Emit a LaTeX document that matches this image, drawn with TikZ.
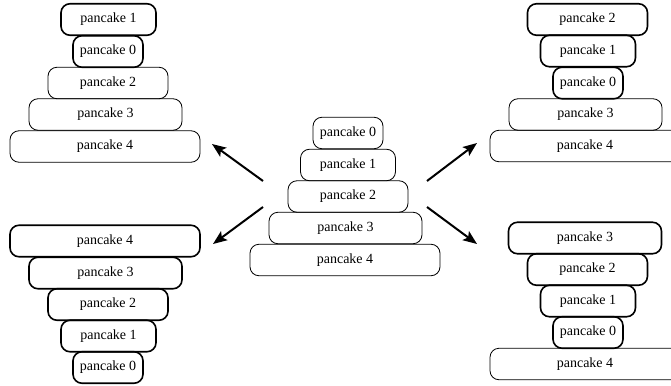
\documentclass[tikz,border=0pt]{standalone}
\usepackage{fontspec}
\setmainfont{Liberation Serif}
\usetikzlibrary{arrows.meta}
\begin{document}
\begin{tikzpicture}[x=1pt,y=-1pt,
  cake/.style={draw, rounded corners=9pt, minimum height=31.5pt, inner sep=0pt,
    line width=0.8pt, font=\fontsize{14}{16}\selectfont},
  flipped/.style={cake, line width=1.6pt},
  w0/.style={minimum width=70pt}, w1/.style={minimum width=95pt},
  w2/.style={minimum width=120pt}, w3/.style={minimum width=153pt},
  w4/.style={minimum width=190pt},
  flip/.style={line width=2pt, -{Stealth[length=14pt,width=11pt,inset=3pt]}}]
\useasboundingbox (0,0) rectangle (671,385);
% top-left
\node[flipped,w1] (tl1) at (108.5,19.5) {pancake 1};
\node[flipped,w0] (tl0) at (108,51.5) {pancake 0};
\node[cake,w2] (tl2) at (108,83) {pancake 2};
\node[cake,w3] (tl3) at (105.5,114.5) {pancake 3};
\node[cake,w4] (tl4) at (105,146.5) {pancake 4};
% center
\node[cake,w0] (c0) at (348,133) {pancake 0};
\node[cake,w1] (c1) at (348,165) {pancake 1};
\node[cake,w2] (c2) at (348,196.5) {pancake 2};
\node[cake,w3] (c3) at (345.5,228) {pancake 3};
\node[cake,w4] (c4) at (345,260) {pancake 4};
% bottom-left
\node[flipped,w4] (bl4) at (105,241) {pancake 4};
\node[flipped,w3] (bl3) at (105.5,273) {pancake 3};
\node[flipped,w2] (bl2) at (108,304.5) {pancake 2};
\node[flipped,w1] (bl1) at (108.5,336) {pancake 1};
\node[flipped,w0] (bl0) at (108,367.5) {pancake 0};
% top-right
\node[flipped,w2] (tr2) at (587.5,19.5) {pancake 2};
\node[flipped,w1] (tr1) at (588,51) {pancake 1};
\node[flipped,w0] (tr0) at (588,83) {pancake 0};
\node[cake,w3] (tr3) at (585.5,114.5) {pancake 3};
\node[cake,w4] (tr4) at (585,146) {pancake 4};
% bottom-right
\node[flipped,w3] (br3) at (585,238) {pancake 3};
\node[flipped,w2] (br2) at (587.5,269.5) {pancake 2};
\node[flipped,w1] (br1) at (588,301) {pancake 1};
\node[flipped,w0] (br0) at (588,332.5) {pancake 0};
\node[cake,w4] (br4) at (585,364) {pancake 4};
% arrows
\coordinate (aTLs) at (263,181); \coordinate (aTLe) at (212,144);
\coordinate (aBLs) at (263,207); \coordinate (aBLe) at (213,244);
\coordinate (aTRs) at (427,181); \coordinate (aTRe) at (477,143);
\coordinate (aBRs) at (427,207); \coordinate (aBRe) at (477,244);
\draw[flip] (aTLs) -- (aTLe);
\draw[flip] (aBLs) -- (aBLe);
\draw[flip] (aTRs) -- (aTRe);
\draw[flip] (aBRs) -- (aBRe);
\end{tikzpicture}
\end{document}
